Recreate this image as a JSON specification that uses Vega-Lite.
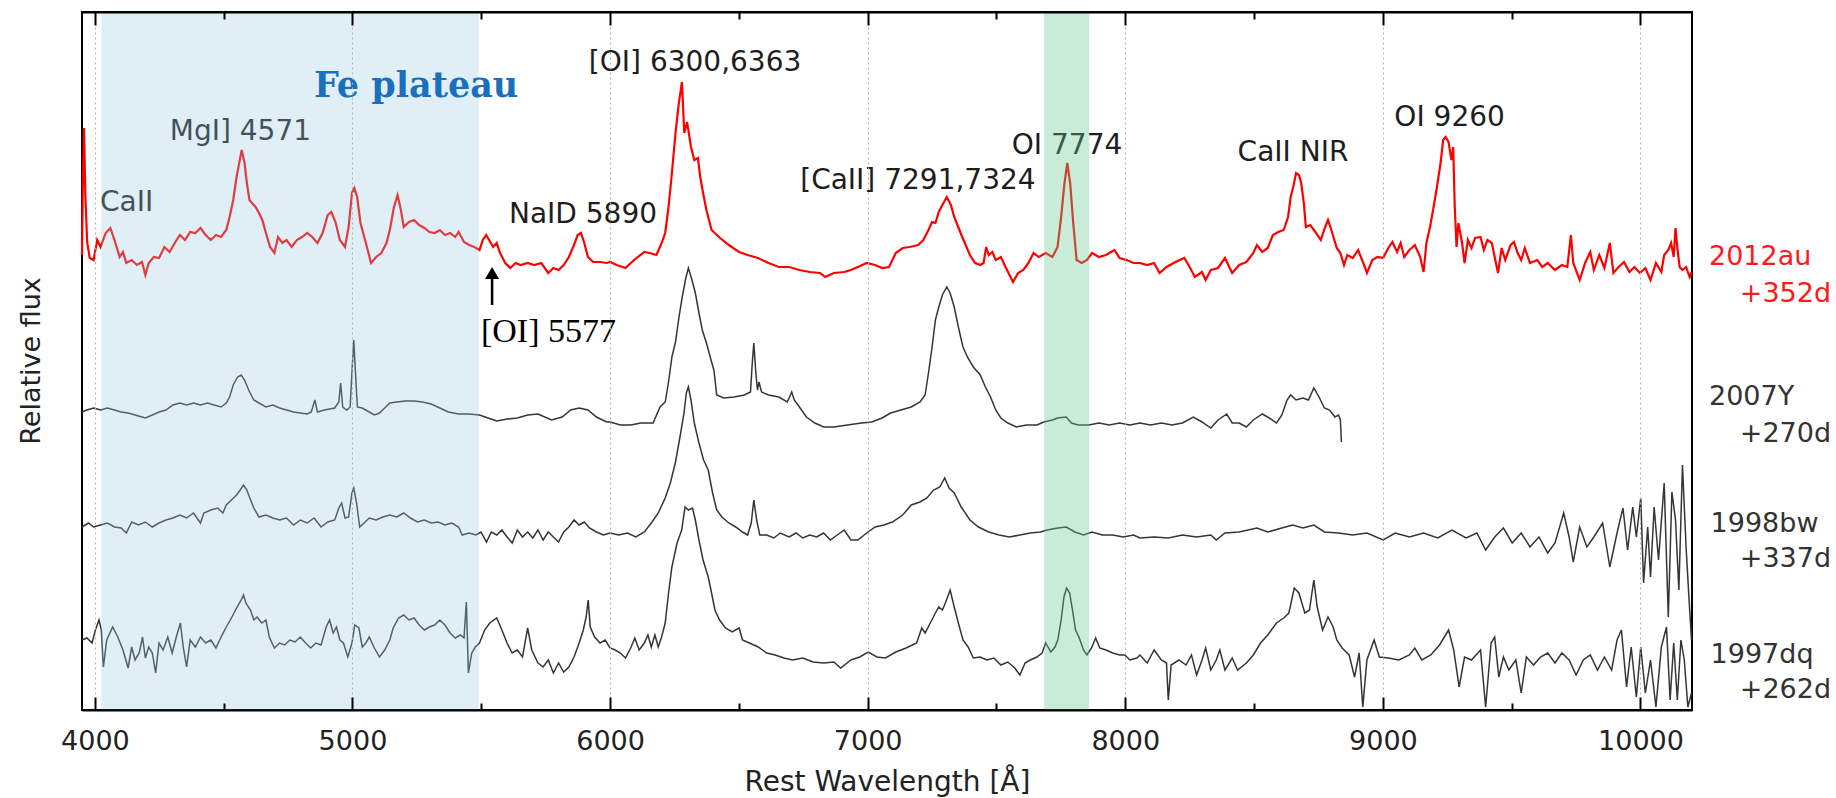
{
"$schema": "https://vega.github.io/schema/vega-lite/v6.json",
"width": 1610, "height": 698,
"autosize": {"type": "none"},
"padding": {"left": 82, "top": 12, "right": 144, "bottom": 88},
"background": "white",
"config": {"view": {"stroke": "#000", "strokeWidth": 2}},
"resolve": {"axis": {"x": "independent"}},
"datasets": {
"sn2012au": [
{"wl":3950,"flux":455},{"wl":3953,"flux":520},{"wl":3958,"flux":582},{"wl":3963,"flux":515},{"wl":3970,"flux":468},{"wl":3980,"flux":452},{"wl":3995,"flux":450},{"wl":4009,"flux":470},{"wl":4022,"flux":463},{"wl":4042,"flux":477},{"wl":4060,"flux":482},{"wl":4076,"flux":470},{"wl":4096,"flux":453},{"wl":4109,"flux":458},{"wl":4122,"flux":447},{"wl":4143,"flux":450},{"wl":4163,"flux":445},{"wl":4183,"flux":448},{"wl":4196,"flux":435},{"wl":4209,"flux":447},{"wl":4229,"flux":453},{"wl":4249,"flux":452},{"wl":4270,"flux":463},{"wl":4290,"flux":458},{"wl":4310,"flux":467},{"wl":4330,"flux":475},{"wl":4350,"flux":470},{"wl":4370,"flux":478},{"wl":4390,"flux":477},{"wl":4410,"flux":482},{"wl":4430,"flux":475},{"wl":4450,"flux":470},{"wl":4470,"flux":475},{"wl":4490,"flux":473},{"wl":4510,"flux":480},{"wl":4523,"flux":493},{"wl":4537,"flux":510},{"wl":4550,"flux":533},{"wl":4564,"flux":552},{"wl":4570,"flux":560},{"wl":4581,"flux":547},{"wl":4590,"flux":527},{"wl":4600,"flux":510},{"wl":4610,"flux":507},{"wl":4624,"flux":503},{"wl":4637,"flux":497},{"wl":4650,"flux":490},{"wl":4664,"flux":477},{"wl":4680,"flux":463},{"wl":4697,"flux":457},{"wl":4711,"flux":473},{"wl":4728,"flux":467},{"wl":4744,"flux":470},{"wl":4764,"flux":463},{"wl":4784,"flux":470},{"wl":4804,"flux":473},{"wl":4824,"flux":477},{"wl":4844,"flux":473},{"wl":4864,"flux":467},{"wl":4884,"flux":477},{"wl":4904,"flux":495},{"wl":4918,"flux":498},{"wl":4934,"flux":488},{"wl":4951,"flux":470},{"wl":4971,"flux":463},{"wl":4985,"flux":483},{"wl":4998,"flux":517},{"wl":5007,"flux":522},{"wl":5018,"flux":513},{"wl":5031,"flux":487},{"wl":5052,"flux":467},{"wl":5072,"flux":447},{"wl":5092,"flux":453},{"wl":5112,"flux":457},{"wl":5132,"flux":467},{"wl":5145,"flux":480},{"wl":5161,"flux":503},{"wl":5175,"flux":515},{"wl":5188,"flux":500},{"wl":5199,"flux":483},{"wl":5219,"flux":488},{"wl":5239,"flux":490},{"wl":5259,"flux":485},{"wl":5279,"flux":482},{"wl":5299,"flux":478},{"wl":5319,"flux":477},{"wl":5339,"flux":480},{"wl":5359,"flux":475},{"wl":5379,"flux":477},{"wl":5399,"flux":473},{"wl":5412,"flux":478},{"wl":5433,"flux":468},{"wl":5453,"flux":465},{"wl":5473,"flux":463},{"wl":5493,"flux":460},{"wl":5506,"flux":470},{"wl":5519,"flux":475},{"wl":5535,"flux":468},{"wl":5546,"flux":463},{"wl":5560,"flux":467},{"wl":5573,"flux":457},{"wl":5593,"flux":447},{"wl":5613,"flux":442},{"wl":5633,"flux":447},{"wl":5653,"flux":445},{"wl":5680,"flux":447},{"wl":5706,"flux":445},{"wl":5733,"flux":447},{"wl":5760,"flux":437},{"wl":5780,"flux":442},{"wl":5800,"flux":440},{"wl":5820,"flux":445},{"wl":5840,"flux":453},{"wl":5860,"flux":465},{"wl":5874,"flux":475},{"wl":5887,"flux":477},{"wl":5900,"flux":467},{"wl":5914,"flux":453},{"wl":5934,"flux":448},{"wl":5961,"flux":448},{"wl":5987,"flux":447},
{"wl":6000,"flux":448},{"wl":6026,"flux":445},{"wl":6060,"flux":442},{"wl":6093,"flux":450},{"wl":6133,"flux":458},{"wl":6153,"flux":457},{"wl":6180,"flux":455},{"wl":6200,"flux":467},{"wl":6214,"flux":477},{"wl":6227,"flux":503},{"wl":6240,"flux":537},{"wl":6254,"flux":577},{"wl":6267,"flux":607},{"wl":6279,"flux":628},{"wl":6288,"flux":577},{"wl":6299,"flux":588},{"wl":6314,"flux":563},{"wl":6327,"flux":550},{"wl":6341,"flux":552},{"wl":6350,"flux":533},{"wl":6361,"flux":517},{"wl":6374,"flux":500},{"wl":6394,"flux":480},{"wl":6427,"flux":472},{"wl":6461,"flux":465},{"wl":6501,"flux":458},{"wl":6534,"flux":455},{"wl":6574,"flux":452},{"wl":6615,"flux":447},{"wl":6655,"flux":443},{"wl":6695,"flux":443},{"wl":6735,"flux":440},{"wl":6775,"flux":438},{"wl":6815,"flux":437},{"wl":6835,"flux":433},{"wl":6869,"flux":437},{"wl":6909,"flux":438},{"wl":6935,"flux":440},{"wl":6962,"flux":443},{"wl":6996,"flux":447},{"wl":7029,"flux":445},{"wl":7056,"flux":442},{"wl":7083,"flux":443},{"wl":7109,"flux":457},{"wl":7136,"flux":462},{"wl":7163,"flux":463},{"wl":7196,"flux":465},{"wl":7216,"flux":470},{"wl":7236,"flux":480},{"wl":7250,"flux":488},{"wl":7263,"flux":487},{"wl":7276,"flux":498},{"wl":7290,"flux":505},{"wl":7307,"flux":513},{"wl":7323,"flux":505},{"wl":7336,"flux":493},{"wl":7356,"flux":480},{"wl":7377,"flux":467},{"wl":7397,"flux":455},{"wl":7417,"flux":447},{"wl":7437,"flux":445},{"wl":7450,"flux":447},{"wl":7460,"flux":463},{"wl":7470,"flux":455},{"wl":7484,"flux":458},{"wl":7497,"flux":450},{"wl":7517,"flux":453},{"wl":7537,"flux":442},{"wl":7564,"flux":428},{"wl":7584,"flux":437},{"wl":7604,"flux":440},{"wl":7624,"flux":447},{"wl":7644,"flux":457},{"wl":7664,"flux":453},{"wl":7691,"flux":457},{"wl":7717,"flux":453},{"wl":7737,"flux":463},{"wl":7751,"flux":493},{"wl":7764,"flux":527},{"wl":7775,"flux":547},{"wl":7786,"flux":527},{"wl":7798,"flux":487},{"wl":7811,"flux":450},{"wl":7831,"flux":447},{"wl":7851,"flux":450},{"wl":7871,"flux":457},{"wl":7898,"flux":453},{"wl":7925,"flux":455},{"wl":7958,"flux":460},{"wl":7978,"flux":452},{"wl":8005,"flux":450},{"wl":8032,"flux":447},
{"wl":8057,"flux":447},{"wl":8085,"flux":445},{"wl":8112,"flux":447},{"wl":8133,"flux":437},{"wl":8160,"flux":443},{"wl":8195,"flux":448},{"wl":8229,"flux":452},{"wl":8250,"flux":443},{"wl":8270,"flux":433},{"wl":8298,"flux":438},{"wl":8312,"flux":430},{"wl":8332,"flux":440},{"wl":8360,"flux":442},{"wl":8387,"flux":452},{"wl":8415,"flux":437},{"wl":8442,"flux":445},{"wl":8470,"flux":448},{"wl":8497,"flux":457},{"wl":8511,"flux":465},{"wl":8532,"flux":458},{"wl":8553,"flux":462},{"wl":8573,"flux":475},{"wl":8594,"flux":478},{"wl":8615,"flux":480},{"wl":8632,"flux":493},{"wl":8642,"flux":513},{"wl":8652,"flux":523},{"wl":8663,"flux":537},{"wl":8674,"flux":535},{"wl":8683,"flux":527},{"wl":8693,"flux":507},{"wl":8701,"flux":483},{"wl":8718,"flux":485},{"wl":8738,"flux":478},{"wl":8759,"flux":470},{"wl":8776,"flux":483},{"wl":8787,"flux":490},{"wl":8800,"flux":480},{"wl":8821,"flux":462},{"wl":8835,"flux":457},{"wl":8849,"flux":445},{"wl":8862,"flux":455},{"wl":8883,"flux":452},{"wl":8904,"flux":460},{"wl":8924,"flux":447},{"wl":8938,"flux":437},{"wl":8959,"flux":450},{"wl":8979,"flux":453},{"wl":9001,"flux":452},{"wl":9021,"flux":462},{"wl":9037,"flux":468},{"wl":9055,"flux":458},{"wl":9069,"flux":467},{"wl":9083,"flux":453},{"wl":9103,"flux":460},{"wl":9124,"flux":465},{"wl":9145,"flux":453},{"wl":9158,"flux":438},{"wl":9169,"flux":467},{"wl":9183,"flux":483},{"wl":9197,"flux":503},{"wl":9211,"flux":525},{"wl":9224,"flux":547},{"wl":9234,"flux":570},{"wl":9244,"flux":573},{"wl":9255,"flux":568},{"wl":9266,"flux":550},{"wl":9273,"flux":563},{"wl":9279,"flux":503},{"wl":9286,"flux":463},{"wl":9293,"flux":487},{"wl":9307,"flux":468},{"wl":9317,"flux":447},{"wl":9330,"flux":470},{"wl":9344,"flux":462},{"wl":9358,"flux":472},{"wl":9379,"flux":473},{"wl":9392,"flux":460},{"wl":9406,"flux":470},{"wl":9423,"flux":467},{"wl":9434,"flux":453},{"wl":9447,"flux":437},{"wl":9461,"flux":462},{"wl":9475,"flux":450},{"wl":9496,"flux":465},{"wl":9509,"flux":468},{"wl":9523,"flux":457},{"wl":9537,"flux":450},{"wl":9551,"flux":462},{"wl":9571,"flux":447},{"wl":9599,"flux":450},{"wl":9619,"flux":443},{"wl":9640,"flux":447},{"wl":9668,"flux":440},{"wl":9695,"flux":445},{"wl":9716,"flux":443},{"wl":9730,"flux":475},{"wl":9739,"flux":447},{"wl":9764,"flux":430},{"wl":9785,"flux":447},{"wl":9805,"flux":458},{"wl":9819,"flux":440},{"wl":9840,"flux":455},{"wl":9860,"flux":442},{"wl":9881,"flux":467},{"wl":9895,"flux":437},{"wl":9915,"flux":443},{"wl":9936,"flux":448},{"wl":9957,"flux":438},{"wl":9977,"flux":443},{"wl":9998,"flux":437},{"wl":10019,"flux":442},{"wl":10039,"flux":430},{"wl":10060,"flux":447},{"wl":10081,"flux":438},{"wl":10092,"flux":455},{"wl":10108,"flux":460},{"wl":10119,"flux":467},{"wl":10129,"flux":453},{"wl":10136,"flux":482},{"wl":10144,"flux":460},{"wl":10152,"flux":443},{"wl":10163,"flux":440},{"wl":10177,"flux":443},{"wl":10191,"flux":433},{"wl":10198,"flux":438}
],
"sn2007Y": [
{"wl":3950,"flux":298},{"wl":3969,"flux":300},{"wl":3995,"flux":302},{"wl":4022,"flux":300},{"wl":4049,"flux":302},{"wl":4076,"flux":300},{"wl":4102,"flux":298},{"wl":4129,"flux":297},{"wl":4156,"flux":295},{"wl":4183,"flux":293},{"wl":4196,"flux":292},{"wl":4223,"flux":295},{"wl":4249,"flux":298},{"wl":4276,"flux":300},{"wl":4303,"flux":305},{"wl":4330,"flux":307},{"wl":4356,"flux":305},{"wl":4383,"flux":307},{"wl":4410,"flux":305},{"wl":4437,"flux":307},{"wl":4463,"flux":305},{"wl":4490,"flux":303},{"wl":4510,"flux":307},{"wl":4523,"flux":313},{"wl":4537,"flux":325},{"wl":4554,"flux":333},{"wl":4568,"flux":335},{"wl":4581,"flux":330},{"wl":4597,"flux":320},{"wl":4617,"flux":310},{"wl":4637,"flux":307},{"wl":4664,"flux":303},{"wl":4691,"flux":305},{"wl":4717,"flux":302},{"wl":4744,"flux":300},{"wl":4771,"flux":298},{"wl":4798,"flux":297},{"wl":4824,"flux":296},{"wl":4840,"flux":298},{"wl":4854,"flux":310},{"wl":4864,"flux":298},{"wl":4891,"flux":300},{"wl":4931,"flux":302},{"wl":4947,"flux":308},{"wl":4954,"flux":327},{"wl":4962,"flux":303},{"wl":4978,"flux":300},{"wl":4991,"flux":303},{"wl":4999,"flux":343},{"wl":5005,"flux":370},{"wl":5011,"flux":340},{"wl":5019,"flux":303},{"wl":5038,"flux":302},{"wl":5065,"flux":298},{"wl":5085,"flux":295},{"wl":5105,"flux":297},{"wl":5125,"flux":302},{"wl":5145,"flux":307},{"wl":5172,"flux":308},{"wl":5205,"flux":309},{"wl":5239,"flux":309},{"wl":5272,"flux":308},{"wl":5306,"flux":306},{"wl":5339,"flux":302},{"wl":5372,"flux":298},{"wl":5412,"flux":296},{"wl":5453,"flux":296},{"wl":5493,"flux":295},{"wl":5526,"flux":292},{"wl":5560,"flux":289},{"wl":5600,"flux":291},{"wl":5640,"flux":292},{"wl":5680,"flux":295},{"wl":5720,"flux":296},{"wl":5773,"flux":290},{"wl":5814,"flux":293},{"wl":5847,"flux":300},{"wl":5880,"flux":302},{"wl":5914,"flux":300},{"wl":5947,"flux":293},{"wl":5987,"flux":288},
{"wl":6000,"flux":288},{"wl":6040,"flux":285},{"wl":6080,"flux":285},{"wl":6120,"flux":287},{"wl":6167,"flux":287},{"wl":6194,"flux":303},{"wl":6214,"flux":308},{"wl":6227,"flux":328},{"wl":6240,"flux":353},{"wl":6254,"flux":368},{"wl":6267,"flux":392},{"wl":6280,"flux":413},{"wl":6294,"flux":432},{"wl":6304,"flux":442},{"wl":6318,"flux":430},{"wl":6331,"flux":417},{"wl":6345,"flux":397},{"wl":6358,"flux":380},{"wl":6374,"flux":367},{"wl":6394,"flux":348},{"wl":6403,"flux":340},{"wl":6414,"flux":315},{"wl":6441,"flux":312},{"wl":6481,"flux":313},{"wl":6521,"flux":315},{"wl":6545,"flux":318},{"wl":6552,"flux":347},{"wl":6558,"flux":367},{"wl":6565,"flux":340},{"wl":6572,"flux":320},{"wl":6578,"flux":328},{"wl":6588,"flux":318},{"wl":6615,"flux":315},{"wl":6655,"flux":313},{"wl":6688,"flux":308},{"wl":6705,"flux":318},{"wl":6715,"flux":310},{"wl":6735,"flux":303},{"wl":6762,"flux":293},{"wl":6795,"flux":287},{"wl":6829,"flux":283},{"wl":6869,"flux":283},{"wl":6922,"flux":285},{"wl":6976,"flux":287},{"wl":7016,"flux":288},{"wl":7056,"flux":292},{"wl":7089,"flux":297},{"wl":7129,"flux":300},{"wl":7169,"flux":303},{"wl":7203,"flux":308},{"wl":7223,"flux":315},{"wl":7236,"flux":337},{"wl":7250,"flux":363},{"wl":7263,"flux":390},{"wl":7276,"flux":403},{"wl":7290,"flux":415},{"wl":7307,"flux":423},{"wl":7320,"flux":417},{"wl":7336,"flux":403},{"wl":7352,"flux":383},{"wl":7370,"flux":363},{"wl":7387,"flux":353},{"wl":7410,"flux":343},{"wl":7437,"flux":335},{"wl":7457,"flux":323},{"wl":7477,"flux":313},{"wl":7497,"flux":300},{"wl":7517,"flux":292},{"wl":7544,"flux":287},{"wl":7577,"flux":283},{"wl":7617,"flux":285},{"wl":7657,"flux":285},{"wl":7684,"flux":288},{"wl":7717,"flux":290},{"wl":7737,"flux":292},{"wl":7771,"flux":293},{"wl":7791,"flux":287},{"wl":7818,"flux":285},{"wl":7858,"flux":285},{"wl":7898,"flux":287},{"wl":7938,"flux":285},{"wl":7978,"flux":287},{"wl":8018,"flux":285},
{"wl":8057,"flux":287},{"wl":8098,"flux":285},{"wl":8140,"flux":287},{"wl":8181,"flux":285},{"wl":8222,"flux":287},{"wl":8264,"flux":293},{"wl":8298,"flux":288},{"wl":8332,"flux":282},{"wl":8360,"flux":290},{"wl":8394,"flux":296},{"wl":8415,"flux":287},{"wl":8442,"flux":287},{"wl":8470,"flux":283},{"wl":8497,"flux":290},{"wl":8532,"flux":296},{"wl":8559,"flux":292},{"wl":8587,"flux":287},{"wl":8608,"flux":295},{"wl":8628,"flux":310},{"wl":8642,"flux":315},{"wl":8663,"flux":310},{"wl":8690,"flux":312},{"wl":8711,"flux":310},{"wl":8732,"flux":322},{"wl":8752,"flux":313},{"wl":8773,"flux":302},{"wl":8793,"flux":300},{"wl":8814,"flux":293},{"wl":8828,"flux":295},{"wl":8835,"flux":290},{"wl":8839,"flux":268}
],
"sn1998bw": [
{"wl":3950,"flux":183},{"wl":3975,"flux":187},{"wl":3995,"flux":183},{"wl":4022,"flux":185},{"wl":4049,"flux":187},{"wl":4076,"flux":183},{"wl":4102,"flux":182},{"wl":4122,"flux":177},{"wl":4143,"flux":188},{"wl":4169,"flux":185},{"wl":4196,"flux":188},{"wl":4223,"flux":183},{"wl":4249,"flux":187},{"wl":4276,"flux":190},{"wl":4303,"flux":192},{"wl":4330,"flux":195},{"wl":4356,"flux":192},{"wl":4383,"flux":197},{"wl":4410,"flux":187},{"wl":4423,"flux":197},{"wl":4450,"flux":200},{"wl":4477,"flux":202},{"wl":4497,"flux":197},{"wl":4510,"flux":205},{"wl":4530,"flux":210},{"wl":4550,"flux":215},{"wl":4564,"flux":220},{"wl":4577,"flux":225},{"wl":4590,"flux":220},{"wl":4600,"flux":213},{"wl":4617,"flux":202},{"wl":4637,"flux":193},{"wl":4664,"flux":195},{"wl":4691,"flux":192},{"wl":4717,"flux":190},{"wl":4744,"flux":192},{"wl":4771,"flux":185},{"wl":4798,"flux":190},{"wl":4824,"flux":187},{"wl":4851,"flux":192},{"wl":4878,"flux":183},{"wl":4904,"flux":188},{"wl":4931,"flux":190},{"wl":4947,"flux":202},{"wl":4958,"flux":207},{"wl":4971,"flux":192},{"wl":4985,"flux":193},{"wl":4998,"flux":217},{"wl":5005,"flux":222},{"wl":5016,"flux":207},{"wl":5028,"flux":183},{"wl":5045,"flux":187},{"wl":5065,"flux":192},{"wl":5092,"flux":190},{"wl":5118,"flux":193},{"wl":5145,"flux":195},{"wl":5172,"flux":193},{"wl":5199,"flux":197},{"wl":5225,"flux":192},{"wl":5252,"flux":188},{"wl":5279,"flux":190},{"wl":5306,"flux":187},{"wl":5332,"flux":188},{"wl":5359,"flux":185},{"wl":5386,"flux":187},{"wl":5412,"flux":183},{"wl":5426,"flux":175},{"wl":5453,"flux":177},{"wl":5479,"flux":175},{"wl":5499,"flux":178},{"wl":5520,"flux":168},{"wl":5539,"flux":178},{"wl":5560,"flux":175},{"wl":5580,"flux":180},{"wl":5600,"flux":173},{"wl":5620,"flux":167},{"wl":5640,"flux":180},{"wl":5660,"flux":173},{"wl":5680,"flux":178},{"wl":5700,"flux":172},{"wl":5720,"flux":180},{"wl":5740,"flux":170},{"wl":5760,"flux":178},{"wl":5780,"flux":173},{"wl":5800,"flux":168},{"wl":5820,"flux":178},{"wl":5840,"flux":183},{"wl":5860,"flux":190},{"wl":5880,"flux":185},{"wl":5900,"flux":188},{"wl":5920,"flux":182},{"wl":5947,"flux":178},{"wl":5974,"flux":175},
{"wl":6000,"flux":177},{"wl":6033,"flux":175},{"wl":6067,"flux":177},{"wl":6100,"flux":173},{"wl":6133,"flux":178},{"wl":6160,"flux":187},{"wl":6187,"flux":197},{"wl":6214,"flux":212},{"wl":6234,"flux":227},{"wl":6254,"flux":248},{"wl":6274,"flux":277},{"wl":6287,"flux":297},{"wl":6296,"flux":317},{"wl":6304,"flux":323},{"wl":6314,"flux":310},{"wl":6327,"flux":287},{"wl":6345,"flux":267},{"wl":6363,"flux":250},{"wl":6381,"flux":240},{"wl":6398,"flux":217},{"wl":6414,"flux":200},{"wl":6434,"flux":193},{"wl":6461,"flux":187},{"wl":6488,"flux":183},{"wl":6514,"flux":178},{"wl":6534,"flux":175},{"wl":6548,"flux":187},{"wl":6558,"flux":210},{"wl":6569,"flux":190},{"wl":6581,"flux":175},{"wl":6608,"flux":175},{"wl":6635,"flux":172},{"wl":6661,"flux":177},{"wl":6695,"flux":173},{"wl":6722,"flux":177},{"wl":6748,"flux":172},{"wl":6775,"flux":175},{"wl":6802,"flux":173},{"wl":6829,"flux":177},{"wl":6855,"flux":170},{"wl":6882,"flux":175},{"wl":6909,"flux":180},{"wl":6935,"flux":170},{"wl":6962,"flux":170},{"wl":6996,"flux":177},{"wl":7029,"flux":183},{"wl":7063,"flux":185},{"wl":7096,"flux":188},{"wl":7136,"flux":195},{"wl":7169,"flux":205},{"wl":7203,"flux":208},{"wl":7230,"flux":212},{"wl":7256,"flux":220},{"wl":7280,"flux":223},{"wl":7299,"flux":232},{"wl":7316,"flux":222},{"wl":7336,"flux":217},{"wl":7363,"flux":203},{"wl":7397,"flux":190},{"wl":7430,"flux":183},{"wl":7470,"flux":178},{"wl":7510,"flux":175},{"wl":7550,"flux":173},{"wl":7591,"flux":175},{"wl":7631,"flux":177},{"wl":7671,"flux":178},{"wl":7697,"flux":180},{"wl":7738,"flux":182},{"wl":7771,"flux":183},{"wl":7804,"flux":178},{"wl":7838,"flux":175},{"wl":7871,"flux":178},{"wl":7911,"flux":175},{"wl":7951,"flux":175},{"wl":7992,"flux":173},{"wl":8032,"flux":175},
{"wl":8057,"flux":172},{"wl":8112,"flux":173},{"wl":8167,"flux":172},{"wl":8222,"flux":175},{"wl":8277,"flux":173},{"wl":8332,"flux":175},{"wl":8353,"flux":170},{"wl":8387,"flux":177},{"wl":8442,"flux":178},{"wl":8511,"flux":182},{"wl":8553,"flux":178},{"wl":8608,"flux":182},{"wl":8649,"flux":185},{"wl":8690,"flux":182},{"wl":8732,"flux":185},{"wl":8773,"flux":178},{"wl":8828,"flux":177},{"wl":8883,"flux":175},{"wl":8938,"flux":177},{"wl":9001,"flux":170},{"wl":9048,"flux":177},{"wl":9103,"flux":173},{"wl":9158,"flux":177},{"wl":9213,"flux":172},{"wl":9268,"flux":180},{"wl":9323,"flux":172},{"wl":9365,"flux":177},{"wl":9399,"flux":160},{"wl":9434,"flux":173},{"wl":9468,"flux":182},{"wl":9502,"flux":167},{"wl":9537,"flux":177},{"wl":9571,"flux":163},{"wl":9606,"flux":173},{"wl":9640,"flux":157},{"wl":9668,"flux":167},{"wl":9702,"flux":197},{"wl":9723,"flux":173},{"wl":9739,"flux":148},{"wl":9764,"flux":183},{"wl":9792,"flux":163},{"wl":9819,"flux":173},{"wl":9853,"flux":187},{"wl":9881,"flux":143},{"wl":9909,"flux":177},{"wl":9932,"flux":202},{"wl":9950,"flux":160},{"wl":9970,"flux":203},{"wl":9984,"flux":173},{"wl":10001,"flux":212},{"wl":10012,"flux":127},{"wl":10028,"flux":183},{"wl":10039,"flux":133},{"wl":10053,"flux":203},{"wl":10070,"flux":150},{"wl":10092,"flux":227},{"wl":10108,"flux":93},{"wl":10122,"flux":218},{"wl":10136,"flux":190},{"wl":10149,"flux":120},{"wl":10163,"flux":245},{"wl":10177,"flux":163},{"wl":10188,"flux":113},{"wl":10198,"flux":70}
],
"sn1997dq": [
{"wl":3950,"flux":70},{"wl":3969,"flux":72},{"wl":3989,"flux":67},{"wl":4002,"flux":80},{"wl":4016,"flux":90},{"wl":4025,"flux":80},{"wl":4033,"flux":43},{"wl":4046,"flux":70},{"wl":4069,"flux":83},{"wl":4089,"flux":73},{"wl":4109,"flux":60},{"wl":4129,"flux":42},{"wl":4143,"flux":63},{"wl":4156,"flux":50},{"wl":4172,"flux":57},{"wl":4185,"flux":73},{"wl":4196,"flux":52},{"wl":4209,"flux":63},{"wl":4223,"flux":57},{"wl":4236,"flux":37},{"wl":4249,"flux":67},{"wl":4265,"flux":60},{"wl":4283,"flux":73},{"wl":4300,"flux":57},{"wl":4316,"flux":73},{"wl":4332,"flux":87},{"wl":4343,"flux":63},{"wl":4356,"flux":43},{"wl":4370,"flux":70},{"wl":4390,"flux":63},{"wl":4410,"flux":73},{"wl":4430,"flux":67},{"wl":4450,"flux":70},{"wl":4470,"flux":62},{"wl":4490,"flux":73},{"wl":4510,"flux":83},{"wl":4530,"flux":92},{"wl":4550,"flux":102},{"wl":4568,"flux":110},{"wl":4577,"flux":115},{"wl":4586,"flux":107},{"wl":4604,"flux":100},{"wl":4617,"flux":90},{"wl":4630,"flux":93},{"wl":4648,"flux":87},{"wl":4664,"flux":90},{"wl":4677,"flux":73},{"wl":4697,"flux":62},{"wl":4717,"flux":67},{"wl":4737,"flux":65},{"wl":4757,"flux":70},{"wl":4777,"flux":68},{"wl":4797,"flux":73},{"wl":4818,"flux":67},{"wl":4838,"flux":62},{"wl":4858,"flux":67},{"wl":4878,"flux":65},{"wl":4898,"flux":83},{"wl":4911,"flux":90},{"wl":4925,"flux":77},{"wl":4938,"flux":83},{"wl":4951,"flux":70},{"wl":4965,"flux":67},{"wl":4982,"flux":53},{"wl":4998,"flux":67},{"wl":5009,"flux":85},{"wl":5025,"flux":82},{"wl":5038,"flux":63},{"wl":5052,"flux":67},{"wl":5065,"flux":73},{"wl":5085,"flux":62},{"wl":5105,"flux":53},{"wl":5125,"flux":60},{"wl":5145,"flux":70},{"wl":5158,"flux":82},{"wl":5179,"flux":92},{"wl":5199,"flux":95},{"wl":5219,"flux":90},{"wl":5239,"flux":92},{"wl":5259,"flux":85},{"wl":5279,"flux":80},{"wl":5299,"flux":83},{"wl":5319,"flux":85},{"wl":5339,"flux":90},{"wl":5359,"flux":85},{"wl":5379,"flux":77},{"wl":5399,"flux":72},{"wl":5419,"flux":75},{"wl":5433,"flux":72},{"wl":5442,"flux":108},{"wl":5450,"flux":37},{"wl":5463,"flux":57},{"wl":5477,"flux":63},{"wl":5493,"flux":67},{"wl":5513,"flux":80},{"wl":5533,"flux":87},{"wl":5560,"flux":92},{"wl":5580,"flux":80},{"wl":5600,"flux":67},{"wl":5620,"flux":57},{"wl":5640,"flux":60},{"wl":5660,"flux":53},{"wl":5680,"flux":82},{"wl":5696,"flux":60},{"wl":5720,"flux":47},{"wl":5740,"flux":43},{"wl":5760,"flux":50},{"wl":5780,"flux":37},{"wl":5800,"flux":47},{"wl":5820,"flux":38},{"wl":5840,"flux":43},{"wl":5860,"flux":53},{"wl":5880,"flux":67},{"wl":5896,"flux":80},{"wl":5907,"flux":93},{"wl":5915,"flux":110},{"wl":5923,"flux":83},{"wl":5940,"flux":73},{"wl":5961,"flux":67},{"wl":5981,"flux":70},
{"wl":6000,"flux":62},{"wl":6020,"flux":60},{"wl":6040,"flux":57},{"wl":6060,"flux":52},{"wl":6080,"flux":62},{"wl":6096,"flux":72},{"wl":6113,"flux":60},{"wl":6133,"flux":67},{"wl":6147,"flux":75},{"wl":6160,"flux":63},{"wl":6174,"flux":75},{"wl":6187,"flux":63},{"wl":6200,"flux":73},{"wl":6214,"flux":87},{"wl":6227,"flux":117},{"wl":6240,"flux":143},{"wl":6260,"flux":167},{"wl":6278,"flux":180},{"wl":6291,"flux":203},{"wl":6304,"flux":200},{"wl":6320,"flux":202},{"wl":6331,"flux":190},{"wl":6345,"flux":170},{"wl":6361,"flux":150},{"wl":6381,"flux":133},{"wl":6394,"flux":117},{"wl":6407,"flux":100},{"wl":6425,"flux":90},{"wl":6448,"flux":82},{"wl":6474,"flux":78},{"wl":6501,"flux":82},{"wl":6514,"flux":70},{"wl":6541,"flux":67},{"wl":6575,"flux":63},{"wl":6608,"flux":57},{"wl":6641,"flux":55},{"wl":6675,"flux":52},{"wl":6708,"flux":50},{"wl":6748,"flux":52},{"wl":6788,"flux":48},{"wl":6829,"flux":47},{"wl":6869,"flux":48},{"wl":6895,"flux":42},{"wl":6935,"flux":50},{"wl":6969,"flux":53},{"wl":7002,"flux":58},{"wl":7036,"flux":53},{"wl":7069,"flux":52},{"wl":7109,"flux":58},{"wl":7149,"flux":62},{"wl":7190,"flux":67},{"wl":7210,"flux":82},{"wl":7223,"flux":77},{"wl":7243,"flux":87},{"wl":7263,"flux":97},{"wl":7276,"flux":103},{"wl":7290,"flux":100},{"wl":7303,"flux":108},{"wl":7320,"flux":120},{"wl":7336,"flux":103},{"wl":7352,"flux":87},{"wl":7370,"flux":70},{"wl":7390,"flux":63},{"wl":7410,"flux":52},{"wl":7437,"flux":53},{"wl":7463,"flux":50},{"wl":7490,"flux":52},{"wl":7517,"flux":45},{"wl":7544,"flux":48},{"wl":7571,"flux":42},{"wl":7591,"flux":35},{"wl":7611,"flux":47},{"wl":7631,"flux":50},{"wl":7657,"flux":53},{"wl":7677,"flux":57},{"wl":7691,"flux":67},{"wl":7711,"flux":58},{"wl":7727,"flux":63},{"wl":7738,"flux":70},{"wl":7751,"flux":90},{"wl":7762,"flux":113},{"wl":7772,"flux":122},{"wl":7784,"flux":117},{"wl":7795,"flux":100},{"wl":7807,"flux":80},{"wl":7820,"flux":73},{"wl":7838,"flux":60},{"wl":7851,"flux":55},{"wl":7869,"flux":62},{"wl":7885,"flux":72},{"wl":7901,"flux":62},{"wl":7925,"flux":60},{"wl":7951,"flux":57},{"wl":7978,"flux":55},{"wl":7998,"flux":55},{"wl":8018,"flux":50},{"wl":8045,"flux":52},
{"wl":8057,"flux":55},{"wl":8085,"flux":47},{"wl":8112,"flux":60},{"wl":8140,"flux":50},{"wl":8160,"flux":47},{"wl":8167,"flux":10},{"wl":8178,"flux":45},{"wl":8208,"flux":50},{"wl":8236,"flux":45},{"wl":8257,"flux":55},{"wl":8277,"flux":35},{"wl":8298,"flux":50},{"wl":8312,"flux":62},{"wl":8332,"flux":40},{"wl":8353,"flux":50},{"wl":8367,"flux":60},{"wl":8387,"flux":40},{"wl":8415,"flux":52},{"wl":8436,"flux":40},{"wl":8470,"flux":47},{"wl":8497,"flux":55},{"wl":8525,"flux":67},{"wl":8553,"flux":75},{"wl":8587,"flux":87},{"wl":8615,"flux":92},{"wl":8635,"flux":97},{"wl":8656,"flux":122},{"wl":8674,"flux":117},{"wl":8697,"flux":97},{"wl":8715,"flux":100},{"wl":8732,"flux":130},{"wl":8745,"flux":103},{"wl":8766,"flux":80},{"wl":8787,"flux":93},{"wl":8807,"flux":83},{"wl":8821,"flux":70},{"wl":8842,"flux":62},{"wl":8869,"flux":55},{"wl":8890,"flux":33},{"wl":8908,"flux":57},{"wl":8922,"flux":3},{"wl":8938,"flux":50},{"wl":8966,"flux":70},{"wl":8986,"flux":53},{"wl":9021,"flux":52},{"wl":9062,"flux":50},{"wl":9103,"flux":55},{"wl":9124,"flux":62},{"wl":9151,"flux":50},{"wl":9186,"flux":55},{"wl":9220,"flux":65},{"wl":9255,"flux":80},{"wl":9275,"flux":60},{"wl":9296,"flux":23},{"wl":9317,"flux":53},{"wl":9344,"flux":50},{"wl":9379,"flux":60},{"wl":9399,"flux":3},{"wl":9420,"flux":67},{"wl":9434,"flux":73},{"wl":9450,"flux":33},{"wl":9468,"flux":53},{"wl":9489,"flux":40},{"wl":9516,"flux":50},{"wl":9537,"flux":17},{"wl":9557,"flux":53},{"wl":9585,"flux":45},{"wl":9612,"flux":53},{"wl":9640,"flux":57},{"wl":9668,"flux":47},{"wl":9695,"flux":57},{"wl":9723,"flux":50},{"wl":9750,"flux":35},{"wl":9778,"flux":50},{"wl":9805,"flux":55},{"wl":9833,"flux":40},{"wl":9860,"flux":53},{"wl":9888,"flux":40},{"wl":9909,"flux":70},{"wl":9926,"flux":80},{"wl":9946,"flux":23},{"wl":9964,"flux":63},{"wl":9984,"flux":13},{"wl":10001,"flux":63},{"wl":10019,"flux":17},{"wl":10039,"flux":50},{"wl":10060,"flux":3},{"wl":10081,"flux":63},{"wl":10101,"flux":83},{"wl":10115,"flux":10},{"wl":10129,"flux":67},{"wl":10143,"flux":10},{"wl":10157,"flux":70},{"wl":10170,"flux":50},{"wl":10184,"flux":3},{"wl":10198,"flux":17}
],
"lines": [
{"label":"CaII","wl":4123,"flux":499},
{"label":"MgI] 4571","wl":4565,"flux":570},
{"label":"NaID 5890","wl":5895,"flux":487},
{"label":"[OI] 6300,6363","wl":6330,"flux":639},
{"label":"[CaII] 7291,7324","wl":7195,"flux":521},
{"label":"OI 7774","wl":7774,"flux":556},
{"label":"CaII NIR","wl":8651,"flux":549},
{"label":"OI 9260","wl":9259,"flux":584}
],
"names": [
{"sn":"2012au","label":"2012au","wl":10266,"flux":445},
{"sn":"2007Y","label":"2007Y","wl":10266,"flux":305},
{"sn":"1998bw","label":"1998bw","wl":10272,"flux":178},
{"sn":"1997dq","label":"1997dq","wl":10272,"flux":47}
],
"days": [
{"sn":"2012au","label":"+352d","wl":10740,"flux":408},
{"sn":"2007Y","label":"+270d","wl":10740,"flux":268},
{"sn":"1998bw","label":"+337d","wl":10740,"flux":143},
{"sn":"1997dq","label":"+262d","wl":10740,"flux":12}
]
},
"layer": [
{
"data": {"name": "sn2012au"},
"mark": {"type": "line", "color": "#ff0000", "strokeWidth": 2.2},
"encoding": {
"x": {"field": "wl", "type": "quantitative", "scale": {"domain": [3950, 10200], "nice": false, "zero": false},
"axis": {"orient": "bottom", "values": [4000,5000,6000,7000,8000,9000,10000], "format": "d", "ticks": false, "domain": true, "domainColor": "#000", "domainWidth": 2, "grid": true, "gridColor": "#b0b0b0", "gridDash": [2,3], "gridWidth": 1, "labelFont": "DejaVu Sans", "labelFontSize": 27, "labelColor": "#222", "labelPadding": 18, "labelFlush": false, "title": "Rest Wavelength [Å]", "titleFont": "DejaVu Sans", "titleFontSize": 28, "titleFontWeight": "normal", "titleColor": "#222", "titleBaseline": "alphabetic", "titleY": 80, "zindex": 1}},
"y": {"field": "flux", "type": "quantitative", "scale": {"domain": [0, 698], "nice": false, "zero": false}, "axis": null}
}
},
{
"data": {"name": "sn2007Y"},
"mark": {"type": "line", "color": "#353535", "strokeWidth": 1.5},
"encoding": {
"x": {"field": "wl", "type": "quantitative", "scale": {"domain": [3950, 10200], "nice": false, "zero": false},
"axis": {"orient": "bottom", "values": [4000,5000,6000,7000,8000,9000,10000], "labels": false, "domain": false, "grid": false, "ticks": true, "tickSize": -13, "tickWidth": 2, "tickColor": "#000", "title": null, "zindex": 1}},
"y": {"field": "flux", "type": "quantitative", "scale": {"domain": [0, 698], "nice": false, "zero": false}, "axis": null}
}
},
{
"data": {"name": "sn1998bw"},
"mark": {"type": "line", "color": "#353535", "strokeWidth": 1.5},
"encoding": {
"x": {"field": "wl", "type": "quantitative", "scale": {"domain": [3950, 10200], "nice": false, "zero": false},
"axis": {"orient": "bottom", "values": [4500,5500,6500,7500,8500,9500], "labels": false, "domain": false, "grid": false, "ticks": true, "tickSize": -7, "tickWidth": 2, "tickColor": "#000", "title": null, "zindex": 1}},
"y": {"field": "flux", "type": "quantitative", "scale": {"domain": [0, 698], "nice": false, "zero": false}, "axis": null}
}
},
{
"data": {"name": "sn1997dq"},
"mark": {"type": "line", "color": "#353535", "strokeWidth": 1.5},
"encoding": {
"x": {"field": "wl", "type": "quantitative", "scale": {"domain": [3950, 10200], "nice": false, "zero": false},
"axis": {"orient": "top", "values": [4000,5000,6000,7000,8000,9000,10000], "labels": false, "domain": true, "domainColor": "#000", "domainWidth": 2, "grid": false, "ticks": true, "tickSize": -13, "tickWidth": 2, "tickColor": "#000", "title": null, "zindex": 1}},
"y": {"field": "flux", "type": "quantitative", "scale": {"domain": [0, 698], "nice": false, "zero": false}, "axis": null}
}
},
{
"data": {"name": "lines"},
"mark": {"type": "text", "font": "DejaVu Sans", "fontSize": 28, "color": "#1e1e1e", "align": "center", "baseline": "alphabetic"},
"encoding": {
"x": {"field": "wl", "type": "quantitative", "scale": {"domain": [3950, 10200], "nice": false, "zero": false}, "axis": null},
"y": {"field": "flux", "type": "quantitative", "scale": {"domain": [0, 698], "nice": false, "zero": false}, "axis": null},
"text": {"field": "label"}
}
},
{
"data": {"values": [{"label": "[OI] 5577", "wl": 5761, "flux": 368}]},
"mark": {"type": "text", "font": "Liberation Serif", "fontSize": 34, "color": "#000", "align": "center", "baseline": "alphabetic"},
"encoding": {
"x": {"field": "wl", "type": "quantitative", "scale": {"domain": [3950, 10200], "nice": false, "zero": false}, "axis": null},
"y": {"field": "flux", "type": "quantitative", "scale": {"domain": [0, 698], "nice": false, "zero": false}, "axis": null},
"text": {"field": "label"}
}
},
{
"data": {"values": [{"label": "Relative flux", "wl": 3787, "flux": 349}]},
"mark": {"type": "text", "font": "DejaVu Sans", "fontSize": 27, "color": "#222", "align": "center", "baseline": "alphabetic", "angle": 270},
"encoding": {
"x": {"field": "wl", "type": "quantitative", "scale": {"domain": [3950, 10200], "nice": false, "zero": false}, "axis": null},
"y": {"field": "flux", "type": "quantitative", "scale": {"domain": [0, 698], "nice": false, "zero": false}, "axis": null},
"text": {"field": "label"}
}
},
{
"data": {"values": [{"wl": 5542, "flux": 405, "flux2": 432}]},
"mark": {"type": "rule", "color": "#000", "strokeWidth": 2.5},
"encoding": {
"x": {"field": "wl", "type": "quantitative", "scale": {"domain": [3950, 10200], "nice": false, "zero": false}, "axis": null},
"y": {"field": "flux", "type": "quantitative", "scale": {"domain": [0, 698], "nice": false, "zero": false}, "axis": null},
"y2": {"field": "flux2"}
}
},
{
"data": {"values": [{"wl": 5542, "flux": 437}]},
"mark": {"type": "point", "shape": "triangle-up", "filled": true, "color": "#000", "opacity": 1, "size": 200},
"encoding": {
"x": {"field": "wl", "type": "quantitative", "scale": {"domain": [3950, 10200], "nice": false, "zero": false}, "axis": null},
"y": {"field": "flux", "type": "quantitative", "scale": {"domain": [0, 698], "nice": false, "zero": false}, "axis": null}
}
},
{
"data": {"values": [{"start": 4025, "end": 5490}]},
"mark": {"type": "rect", "color": "#98cade", "opacity": 0.3},
"encoding": {
"x": {"field": "start", "type": "quantitative", "scale": {"domain": [3950, 10200], "nice": false, "zero": false},
"axis": {"orient": "top", "values": [4500,5500,6500,7500,8500,9500], "labels": false, "domain": false, "grid": false, "ticks": true, "tickSize": -7, "tickWidth": 2, "tickColor": "#000", "title": null, "zindex": 1}},
"x2": {"field": "end"}
}
},
{
"data": {"values": [{"start": 7685, "end": 7860}]},
"mark": {"type": "rect", "color": "#62c98d", "opacity": 0.35},
"encoding": {
"x": {"field": "start", "type": "quantitative", "scale": {"domain": [3950, 10200], "nice": false, "zero": false}, "axis": null},
"x2": {"field": "end"}
}
},
{
"data": {"values": [{"label": "Fe plateau", "wl": 5247, "flux": 613}]},
"mark": {"type": "text", "font": "DejaVu Serif", "fontWeight": "bold", "fontSize": 35, "color": "#1a70bd", "align": "center", "baseline": "alphabetic"},
"encoding": {
"x": {"field": "wl", "type": "quantitative", "scale": {"domain": [3950, 10200], "nice": false, "zero": false}, "axis": null},
"y": {"field": "flux", "type": "quantitative", "scale": {"domain": [0, 698], "nice": false, "zero": false}, "axis": null},
"text": {"field": "label"}
}
},
{
"data": {"name": "names"},
"mark": {"type": "text", "font": "DejaVu Sans", "fontSize": 27, "align": "left", "baseline": "alphabetic"},
"encoding": {
"x": {"field": "wl", "type": "quantitative", "scale": {"domain": [3950, 10200], "nice": false, "zero": false}, "axis": null},
"y": {"field": "flux", "type": "quantitative", "scale": {"domain": [0, 698], "nice": false, "zero": false}, "axis": null},
"text": {"field": "label"},
"color": {"field": "sn", "type": "nominal", "scale": {"domain": ["2012au","2007Y","1998bw","1997dq"], "range": ["#ff1a1a","#333333","#333333","#333333"]}, "legend": null}
}
},
{
"data": {"name": "days"},
"mark": {"type": "text", "font": "DejaVu Sans", "fontSize": 27, "align": "right", "baseline": "alphabetic"},
"encoding": {
"x": {"field": "wl", "type": "quantitative", "scale": {"domain": [3950, 10200], "nice": false, "zero": false}, "axis": null},
"y": {"field": "flux", "type": "quantitative", "scale": {"domain": [0, 698], "nice": false, "zero": false}, "axis": null},
"text": {"field": "label"},
"color": {"field": "sn", "type": "nominal", "scale": {"domain": ["2012au","2007Y","1998bw","1997dq"], "range": ["#ff1a1a","#333333","#333333","#333333"]}, "legend": null}
}
}
]
}
